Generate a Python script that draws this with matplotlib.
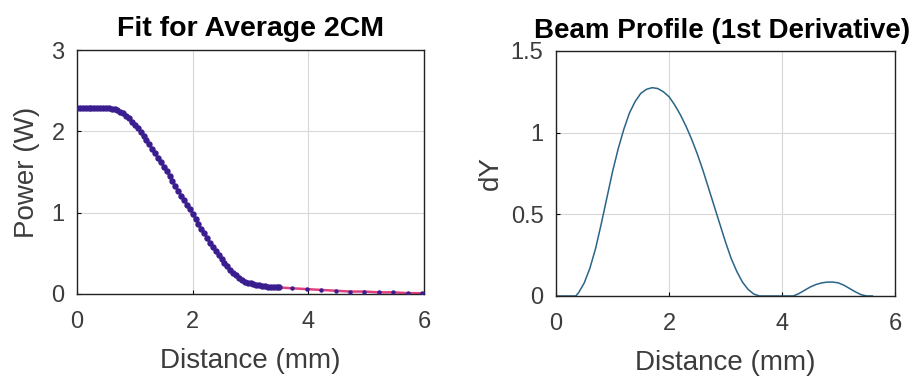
import numpy as np
import matplotlib
matplotlib.use('Agg')
import matplotlib.pyplot as plt

# measured average power, dense samples every 0.05 mm from 0 to 3.5
x_dense = np.round(np.arange(0, 3.51, 0.05), 2)
p_dense = [2.29, 2.29, 2.29, 2.29, 2.29, 2.29, 2.29, 2.29, 2.29, 2.29, 2.29, 2.29,
           2.28, 2.27, 2.26, 2.24, 2.22, 2.19, 2.16, 2.12, 2.08,
           2.04, 1.99, 1.94, 1.89, 1.84, 1.78, 1.73, 1.67, 1.62, 1.56,
           1.51, 1.45, 1.39, 1.33, 1.27, 1.21, 1.16, 1.10, 1.04, 0.98,
           0.92, 0.86, 0.80, 0.75, 0.69, 0.63, 0.58, 0.53, 0.48, 0.43,
           0.38, 0.34, 0.30, 0.26, 0.23, 0.20, 0.17, 0.15, 0.14, 0.13,
           0.12, 0.11, 0.105, 0.10, 0.095, 0.09, 0.09, 0.09, 0.085, 0.08]
# sparse tail samples
x_tail = [3.72, 3.97, 4.22, 4.47, 4.72, 4.97, 5.22, 5.47, 5.72, 5.97]
p_tail = [0.07, 0.06, 0.05, 0.04, 0.03, 0.03, 0.02, 0.02, 0.01, 0.01]

# beam profile (1st derivative of fit)
x_deriv = [0.0, 0.1, 0.2, 0.3, 0.35, 0.4, 0.5, 0.6, 0.7, 0.8, 0.9, 1.0, 1.1,
           1.2, 1.3, 1.4, 1.5, 1.6, 1.7, 1.8, 1.9, 2.0, 2.1, 2.2, 2.3, 2.4,
           2.5, 2.6, 2.7, 2.8, 2.9, 3.0, 3.1, 3.2, 3.3, 3.4, 3.5, 3.6, 3.7,
           3.8, 3.9, 4.0, 4.1, 4.2, 4.3, 4.4, 4.5, 4.6, 4.7, 4.8, 4.9, 5.0,
           5.1, 5.2, 5.3, 5.4, 5.5, 5.6]
dy = [0.0, 0.0, 0.0, 0.0, 0.0, 0.02, 0.08, 0.17, 0.29, 0.44, 0.60, 0.76, 0.90,
      1.02, 1.12, 1.19, 1.24, 1.265, 1.275, 1.27, 1.25, 1.22, 1.17, 1.11, 1.04,
      0.96, 0.87, 0.77, 0.66, 0.55, 0.44, 0.33, 0.23, 0.15, 0.085, 0.04, 0.012,
      0.0, 0.0, 0.0, 0.0, 0.0, 0.0, 0.0, 0.015, 0.035, 0.055, 0.07, 0.08,
      0.085, 0.085, 0.08, 0.065, 0.045, 0.025, 0.008, 0.0, 0.0]

plt.rcParams['font.family'] = ['Liberation Sans', 'DejaVu Sans']
txt = '#3c3c3c'

fig = plt.figure(figsize=(9.19, 3.77), dpi=100)
ax1 = fig.add_axes([0.0838, 0.2202, 0.3776, 0.647])
ax2 = fig.add_axes([0.605, 0.2149, 0.3689, 0.65])

# Left: fit + data
ax1.plot(list(x_dense) + x_tail, p_dense + p_tail, color='#e0407f', linewidth=1.8, zorder=2)
ax1.plot(x_dense, p_dense, 'o', color='#3a1d8f', markersize=4.6, markeredgewidth=0, zorder=3)
ax1.plot(x_tail, p_tail, 'o', color='#3a1d8f', markersize=3.2, markeredgewidth=0, zorder=3)
ax1.set_xlim(0, 6)
ax1.set_ylim(0, 3)
ax1.set_xticks([0, 2, 4, 6])
ax1.set_yticks([0, 1, 2, 3])
ax1.set_title('Fit for Average 2CM', fontsize=20.5, fontweight='bold', pad=10)
ax1.set_xlabel('Distance (mm)', fontsize=20, color=txt, labelpad=11)
ax1.set_ylabel('Power (W)', fontsize=20, color=txt, labelpad=8)

# Right: derivative
ax2.plot(x_deriv, dy, color='#2a6488', linewidth=1.1)
ax2.set_xlim(0, 6)
ax2.set_ylim(0, 1.5)
ax2.set_xticks([0, 2, 4, 6])
ax2.set_yticks([0, 0.5, 1, 1.5])
ax2.set_yticklabels(['0', '0.5', '1', '1.5'])
ax2.set_title('Beam Profile (1st Derivative)', fontsize=20, fontweight='bold', pad=9, x=0.49)
ax2.set_xlabel('Distance (mm)', fontsize=20, color=txt, labelpad=11)
ax2.set_ylabel('dY', fontsize=20, color=txt, labelpad=5)

for ax in (ax1, ax2):
    ax.grid(True, color='#d8d8d8', linewidth=0.8)
    ax.set_axisbelow(True)
    ax.tick_params(direction='in', labelsize=17, labelcolor=txt, length=3)
    ax.tick_params(axis='x', pad=12)
    ax.tick_params(axis='y', pad=9)
    for s in ax.spines.values():
        s.set_color('#222222')
        s.set_linewidth(1.0)

plt.savefig('out.png', dpi=100)
